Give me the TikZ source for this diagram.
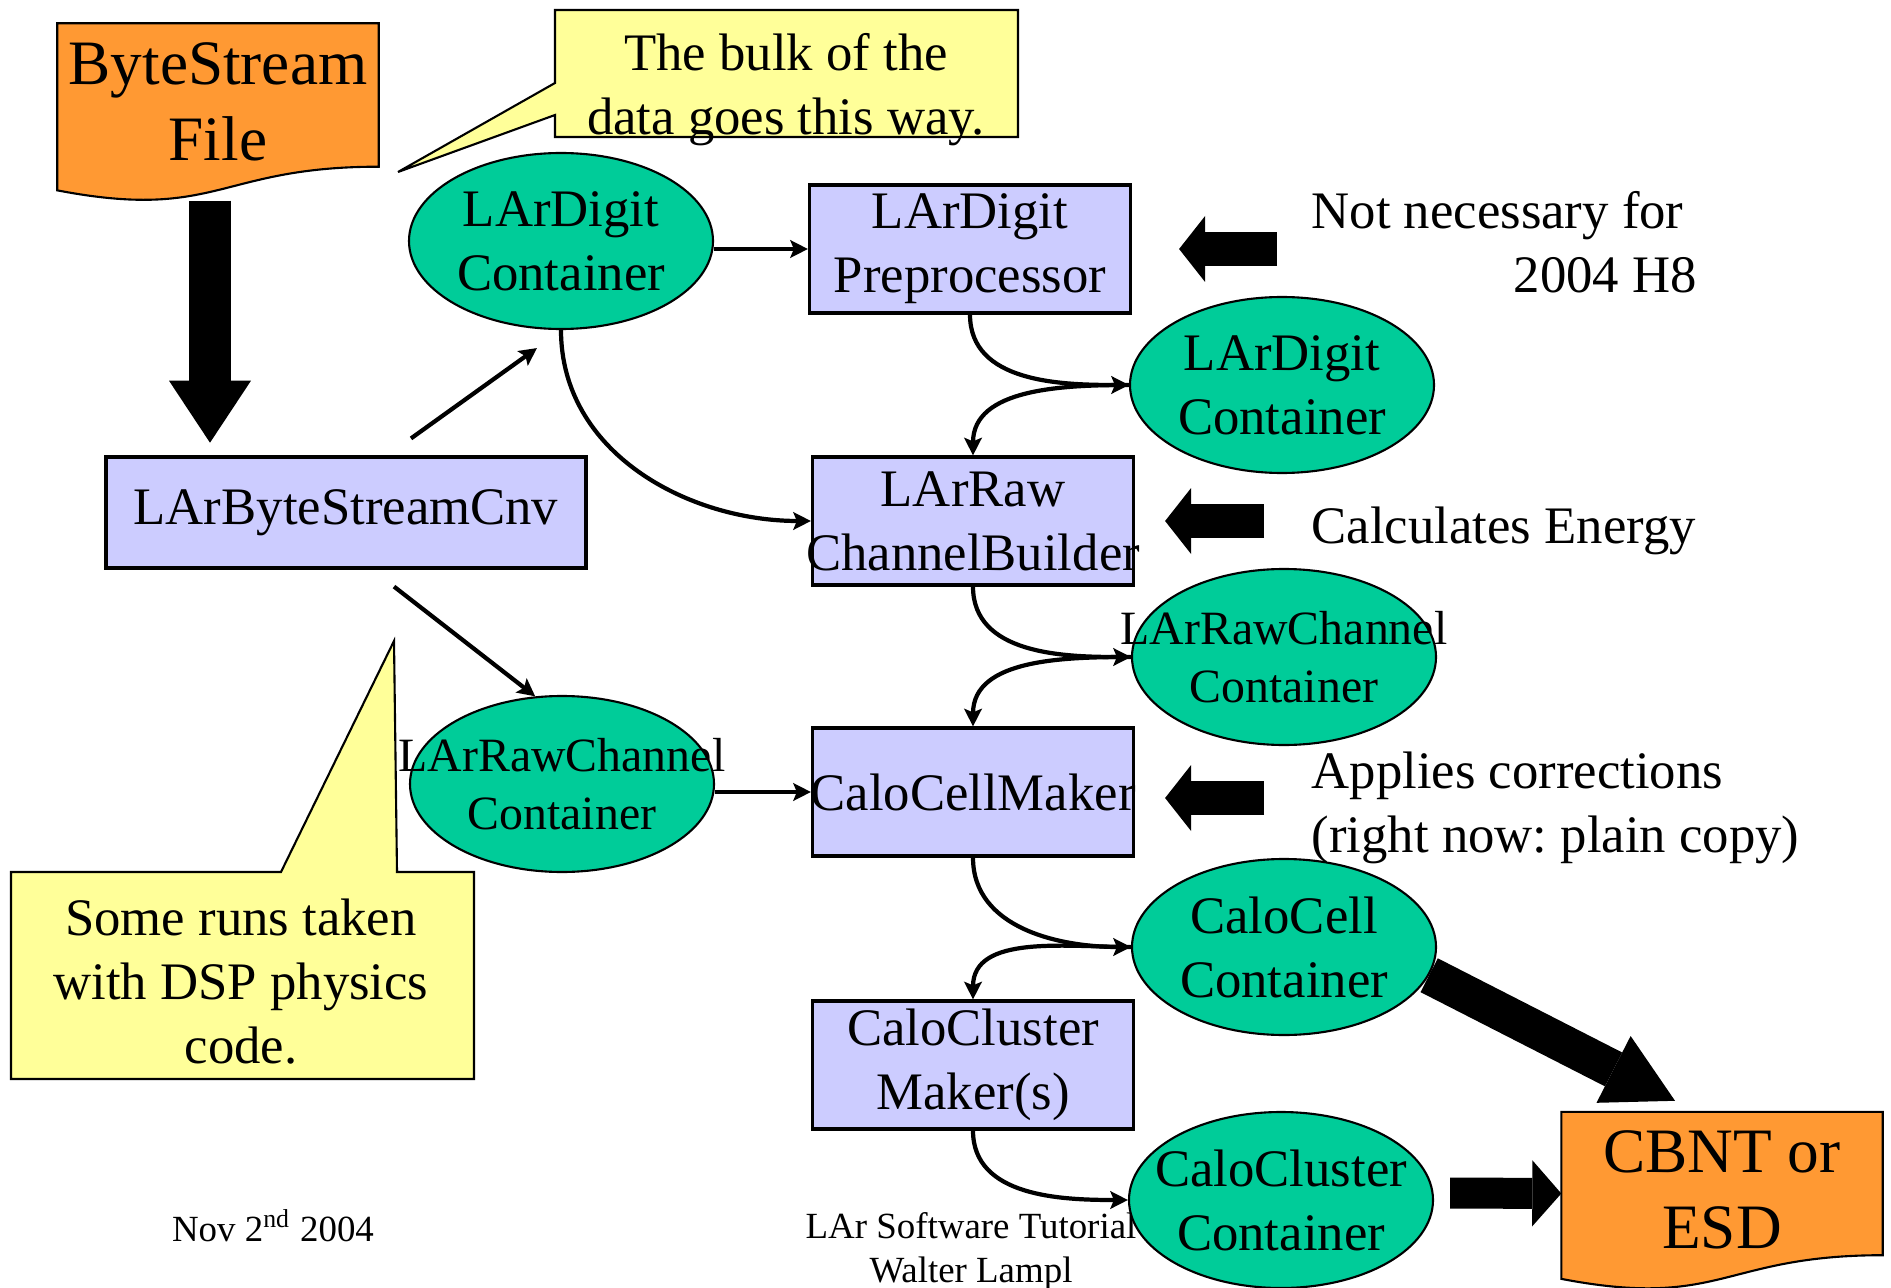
\documentclass[tikz,border=0pt]{standalone}
\usepackage{fontspec}
\setmainfont{Liberation Serif}
\usetikzlibrary{arrows.meta,positioning,shapes.geometric,calc,backgrounds}
\definecolor{docorange}{HTML}{FF9933}
\definecolor{contgreen}{HTML}{00CC99}
\definecolor{algblue}{HTML}{CCCCFF}
\definecolor{noteyellow}{HTML}{FFFF99}
\frenchspacing

\newcommand{\midfont}{\fontsize{15}{18.2}\selectfont}
\newcommand{\smallmidfont}{\fontsize{13.6}{16.4}\selectfont}
\newcommand{\bigfont}{\fontsize{18}{21.6}\selectfont}
\newcommand{\footfont}{\fontsize{10.5}{12.5}\selectfont}

% file-like outline with a wavy lower edge
\newcommand{\docoutline}[1]{%
  \draw[line width=0.6pt, fill=docorange] let \p1=($(#1.north)-(#1.south)$) in
    (#1.north west) -- (#1.north east) -- (#1.south east)
    .. controls (#1.south) and ($(#1.south)+(0,-0.38*\y1)$) .. ($(#1.south west)+(0,-0.165*\y1)$) -- cycle;}

\tikzset{
  algo/.style={draw, line width=0.9pt, fill=algblue, minimum width=3.21cm, minimum height=1.28cm,
    inner sep=0pt, align=center, font=\midfont},
  cont/.style={ellipse, draw, line width=0.6pt, fill=contgreen, minimum width=3.04cm, minimum height=1.76cm,
    inner sep=0pt, text width=2.1cm, align=center, font=\midfont},
  docfile/.style={minimum width=3.20cm, minimum height=1.42cm, inner sep=0pt, align=center, font=\bigfont},
  callout/.style={draw, line width=0.6pt, fill=noteyellow},
  note/.style={inner sep=0pt, font=\midfont},
  flow/.style={line width=1.2pt, -{Stealth[length=5pt, width=5pt, inset=1pt]}},
  blockarrow/.style n args={3}{line width=#1, -{Triangle[length=#2, width=#3, line width=0pt]}}
}

\begin{document}
\begin{tikzpicture}
  \useasboundingbox (0,0) rectangle (18.91,-12.88);

  % callouts
  \filldraw[callout] (5.55,-0.10) -- (10.18,-0.10) -- (10.18,-1.37) -- (5.55,-1.37) -- (5.55,-1.15)
    -- (3.98,-1.72) -- (5.55,-0.83) -- cycle;
  \node[note, align=center] (bulk) at (7.86,-0.90) {The bulk of the\\data goes this way.};
  \filldraw[callout] (0.11,-8.72) -- (2.81,-8.72) -- (3.94,-6.41) -- (3.97,-8.72) -- (4.74,-8.72)
    -- (4.74,-10.79) -- (0.11,-10.79) -- cycle;
  \node[note, align=center] (dsp) at (2.41,-9.82) {Some runs taken\\with DSP physics\\code.};

  % footer
  \node[inner sep=0pt, font=\footfont] (date) at (2.73,-12.26) {Nov 2\textsuperscript{nd} 2004};
  \node[inner sep=0pt, font=\footfont, align=center] (tut) at (9.71,-12.51) {LAr Software Tutorial\\Walter Lampl};

  % files
  \node[docfile] (bsfile) at (2.18,-0.95) {\rule{0pt}{0.55cm}ByteStream\\File};
  \node[docfile] (cbnt) at (17.22,-11.835) {\rule{0pt}{0.55cm}CBNT or\\ESD};
  \begin{scope}[on background layer]
    \docoutline{bsfile}
    \docoutline{cbnt}
  \end{scope}

  % algorithms and containers
  \node[algo, minimum width=4.80cm, minimum height=1.11cm] (cnv) at (3.46,-5.125) {LArByteStreamCnv};
  \node[cont] (digcont) at (5.61,-2.41) {LArDigit\\Container};
  \node[cont, font=\smallmidfont] (rawcontl) at (5.62,-7.84) {\makebox[0pt]{LArRawChannel}\\Container};
  \node[algo] (prep) at (9.70,-2.49) {LArDigit\\Preprocessor};
  \node[algo] (builder) at (9.73,-5.21) {LArRaw\\\makebox[0pt]{ChannelBuilder}};
  \node[algo] (cellmaker) at (9.73,-7.92) {\makebox[0pt]{CaloCellMaker}};
  \node[algo] (clusmaker) at (9.73,-10.65) {CaloCluster\\Maker(s)};
  \node[cont] (digcontp) at (12.82,-3.85) {LArDigit\\Container};
  \node[cont, font=\smallmidfont] (rawcontr) at (12.84,-6.57) {\makebox[0pt]{LArRawChannel}\\Container};
  \node[cont] (cellcont) at (12.84,-9.47) {CaloCell\\Container};
  \node[cont] (cluscont) at (12.81,-12.00) {\makebox[0pt]{CaloCluster}\\Container};

  % remarks
  \node[note, align=right, anchor=west] (notneeded) at (13.11,-2.425) {Not necessary for\hspace*{0.25em}\\2004 H8};
  \node[note, anchor=west] (energy) at (13.11,-5.31) {Calculates Energy};
  \node[note, align=left, anchor=west] (corr) at (13.11,-8.08) {Applies corrections\\(right now: plain copy)};

  % data flow
  \coordinate (cnvup) at ($(cnv.north)+(0.65,0.17)$);
  \coordinate (digin) at ($(digcont.south)+(-0.24,-0.18)$);
  \coordinate (cnvdown) at ($(cnv.south)+(0.48,-0.17)$);
  \draw[flow] (cnvup) -- (digin);
  \draw[flow] (cnvdown) -- (rawcontl.107);
  \draw[flow] (prep.west -| digcont.east) -- (prep.west);
  \draw[flow] (cellmaker.west -| rawcontl.east) -- (cellmaker.west);
  \draw[flow] (digcont.south) to[out=-90, in=180] (builder.west);
  \draw[flow] (prep.south) to[out=-90, in=180] (digcontp.west);
  \draw[flow] (digcontp.west) to[out=180, in=90] (builder.north);
  \draw[flow] (builder.south) to[out=-90, in=180] (rawcontr.west);
  \draw[flow] (rawcontr.west) to[out=180, in=90] (cellmaker.north);
  \draw[flow] (cellmaker.south) to[out=-90, in=180] (cellcont.west);
  \draw[flow] (cellcont.west) to[out=180, in=90] (clusmaker.north);
  \draw[flow] (clusmaker.south) to[out=-90, in=180] (cluscont.west);

  % block arrows
  \draw[blockarrow={0.42cm}{0.62cm}{0.82cm}] ($(bsfile.south)+(-0.08,-0.34)$) -- ++(0,-2.42);
  \draw[blockarrow={0.34cm}{0.26cm}{0.66cm}] ($(prep.east)+(1.45,0)$) -- ($(prep.east)+(0.47,0)$);
  \draw[blockarrow={0.34cm}{0.26cm}{0.66cm}] ($(builder.east)+(1.29,0)$) -- ($(builder.east)+(0.30,0)$);
  \draw[blockarrow={0.34cm}{0.26cm}{0.66cm}] ($(cellmaker.east)+(1.29,-0.06)$) -- ($(cellmaker.east)+(0.30,-0.06)$);
  \draw[blockarrow={0.38cm}{0.69cm}{0.75cm}] (cellcont.-11) -- ($(cbnt.north)+(-0.47,0.11)$);
  \draw[blockarrow={0.31cm}{0.29cm}{0.66cm}] ($(cluscont.east)+(0.16,0.07)$) -- ($(cbnt.west)+(0,-0.10)$);
\end{tikzpicture}
\end{document}
